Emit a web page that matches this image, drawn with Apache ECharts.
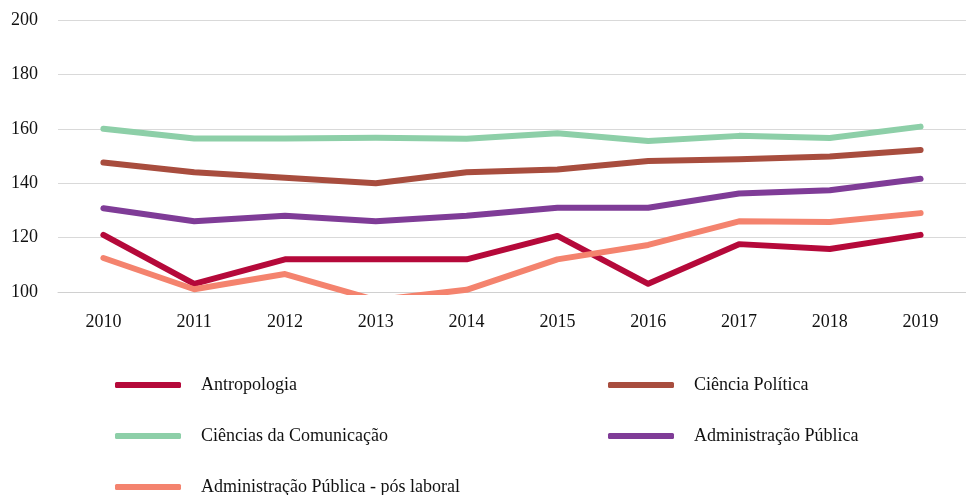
<!DOCTYPE html>
<html>
<head>
<meta charset="utf-8">
<script src="https://cdn.jsdelivr.net/npm/echarts@6/dist/echarts.min.js"></script>
<style>
  html, body { margin: 0; padding: 0; background: #fff; }
  #chart { width: 966px; height: 495px; }
</style>
</head>
<body>
<div id="chart"></div>
<script>
// data
const years = ['2010', '2011', '2012', '2013', '2014', '2015', '2016', '2017', '2018', '2019'];
const antropologia = [121, 103, 112, 112, 112, 120.6, 103, 117.6, 115.8, 121];
const cienciaPolitica = [147.6, 144, 142, 140, 144, 145, 148.2, 148.8, 149.8, 152.2];
const cienciasComunicacao = [160, 156.4, 156.4, 156.7, 156.3, 158.4, 155.5, 157.4, 156.6, 160.8];
const adminPublica = [130.8, 126, 128, 126, 128, 131, 131, 136.2, 137.4, 141.6];
const adminPosLaboral = [112.5, 101, 106.6, 97, 100.8, 112, 117.3, 126, 125.7, 129];
const yTicks = { min: 100, max: 200, step: 20 };

const serif = '"Liberation Serif", "DejaVu Serif", serif';

const seriesDefs = [
  { name: 'Antropologia', data: antropologia, color: '#b5093a' },
  { name: 'Ciência Política', data: cienciaPolitica, color: '#a84d3e' },
  { name: 'Ciências da Comunicação', data: cienciasComunicacao, color: '#8dcfa8' },
  { name: 'Administração Pública', data: adminPublica, color: '#7f3c97' },
  { name: 'Administração Pública - pós laboral', data: adminPosLaboral, color: '#f4836e' }
];

const legendBase = {
  orient: 'vertical',
  top: 376,
  height: 200,
  padding: 0,
  itemWidth: 66,
  itemHeight: 6,
  itemGap: 33,
  icon: 'roundRect',
  textStyle: { fontFamily: serif, fontSize: 18, color: '#111', padding: [0, 0, 0, 15] },
  selectedMode: false
};

const chart = echarts.init(document.getElementById('chart'));
chart.setOption({
  animation: false,
  grid: { left: 58, top: 20, width: 916, height: 272 },
  legend: [
    Object.assign({}, legendBase, {
      left: 115,
      data: ['Antropologia', 'Ciências da Comunicação', 'Administração Pública - pós laboral']
    }),
    Object.assign({}, legendBase, {
      left: 608,
      data: ['Ciência Política', 'Administração Pública']
    })
  ],
  xAxis: {
    type: 'category',
    data: years,
    axisLine: { lineStyle: { color: '#d0d0d0', width: 1 } },
    axisTick: { show: false },
    axisLabel: { fontFamily: serif, fontSize: 18, color: '#111', margin: 21 }
  },
  yAxis: {
    type: 'value',
    min: yTicks.min,
    max: yTicks.max,
    interval: yTicks.step,
    axisLine: { show: false },
    axisTick: { show: false },
    axisLabel: { fontFamily: serif, fontSize: 18, color: '#111', margin: 20 },
    splitLine: { lineStyle: { color: '#d9d9d9', width: 1 } }
  },
  series: seriesDefs.map(s => ({
    name: s.name,
    type: 'line',
    data: s.data,
    clip: true,
    showSymbol: false,
    symbol: 'none',
    color: s.color,
    itemStyle: { color: s.color },
    lineStyle: { color: s.color, width: 6, cap: 'round', join: 'round' }
  }))
});
</script>
</body>
</html>
